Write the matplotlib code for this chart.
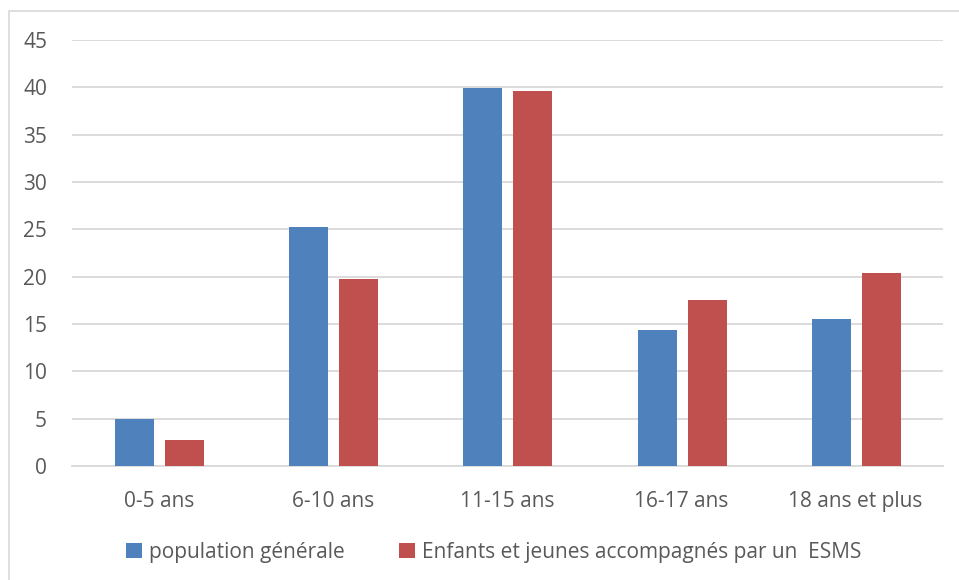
import matplotlib.pyplot as plt
import matplotlib.patches as mpatches
import numpy as np

categories = ['0-5 ans', '6-10 ans', '11-15 ans', '16-17 ans', '18 ans et plus']
pop_generale = [5.0, 25.2, 39.9, 14.4, 15.5]
esms = [2.7, 19.8, 39.6, 17.5, 20.4]
series_names = ['population générale', 'Enfants et jeunes accompagnés par un  ESMS']

plt.rcParams['font.family'] = ['Open Sans', 'DejaVu Sans']
txt = '#595959'

fig = plt.figure(figsize=(9.59, 5.80), dpi=100)
ax = fig.add_axes([0.0751, 0.1966, 0.9079, 0.7345])

x = np.arange(len(categories))
w = 0.224
ax.bar(x - 0.14, pop_generale, w, color='#4F81BD', label=series_names[0], zorder=3)
ax.bar(x + 0.147, esms, w, color='#C0504D', label=series_names[1], zorder=3)

ax.set_xlim(-0.5, len(categories) - 0.5)
ax.set_ylim(0, 45)
ax.set_yticks(range(0, 46, 5))
ax.grid(axis='y', color='#d9d9d9', linewidth=1.3, zorder=0)
for s in ['top', 'right', 'left']:
    ax.spines[s].set_visible(False)
ax.spines['bottom'].set_color('#d9d9d9')
ax.spines['bottom'].set_linewidth(1.3)
ax.tick_params(length=0, colors=txt, labelsize=15)
ax.tick_params(axis='y', pad=18)
ax.tick_params(axis='x', pad=18)
ax.set_xticks(x)
ax.set_xticklabels(categories)

fig.legend(loc='lower center', bbox_to_anchor=(0.515, -0.003), ncol=2, frameon=False,
           fontsize=15, labelcolor=txt, handlelength=0.75, handleheight=0.75,
           handletextpad=0.35, columnspacing=2.6)

fig.patches.append(mpatches.Rectangle((9 / 959, -0.01), 1.0, 1 - 11 / 580 + 0.01,
                                      transform=fig.transFigure, fill=False,
                                      edgecolor='#d9d9d9', linewidth=1.2))

fig.savefig('out.png', dpi=100)
